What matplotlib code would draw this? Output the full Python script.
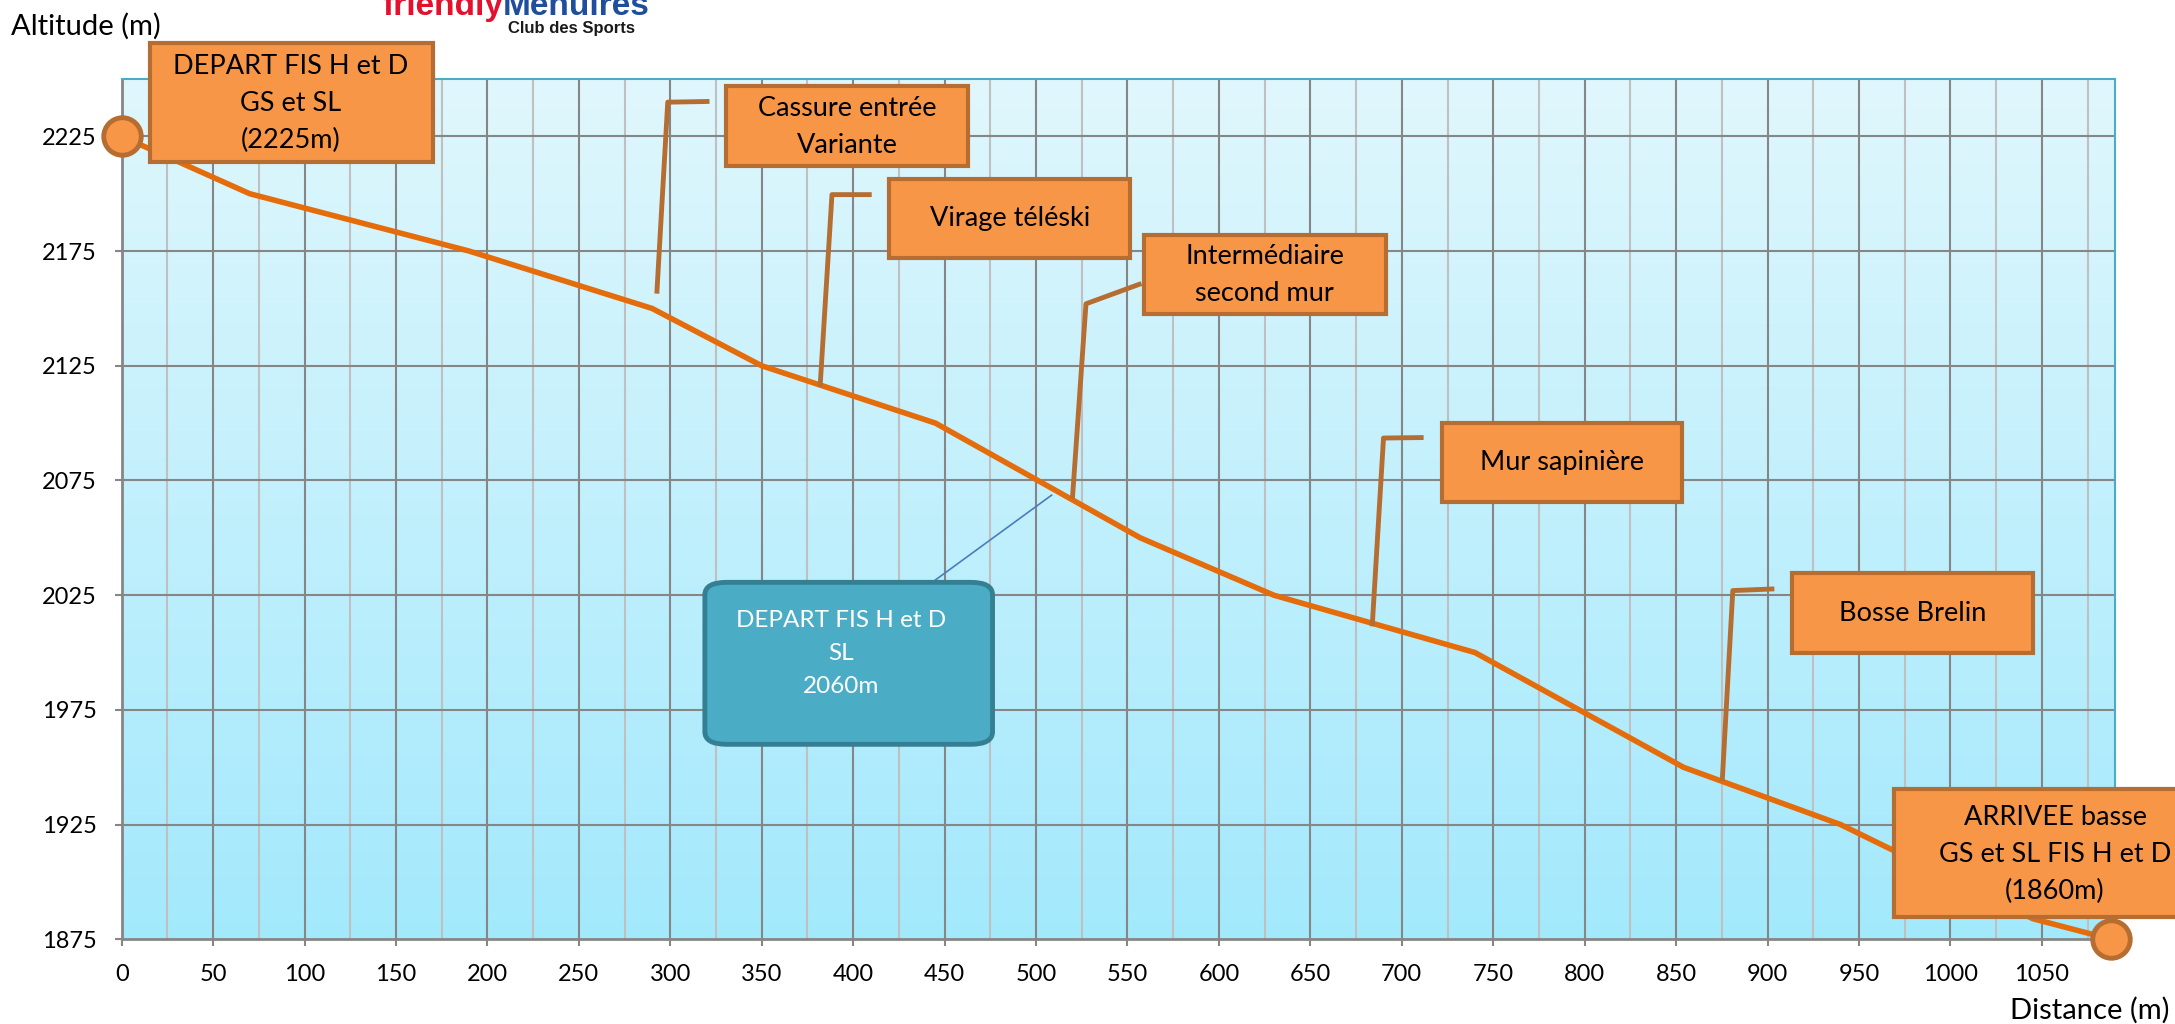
import numpy as np
import matplotlib.pyplot as plt
from matplotlib.patches import Rectangle, FancyBboxPatch
from matplotlib.colors import LinearSegmentedColormap

plt.rcParams['font.family'] = ['Lato', 'DejaVu Sans']

# profil de la piste (distance en m, altitude en m)
distance = [0, 70, 190, 290, 350, 445, 557, 630, 740, 854, 940, 1045, 1088]
altitude = [2225, 2200, 2175, 2150, 2125, 2100, 2050, 2025, 2000, 1950, 1925, 1884, 1875]

x_ticks = list(range(0, 1051, 50))
y_ticks = list(range(1875, 2226, 50))

# textes des bulles
textes_orange = [
    "DEPART FIS H et D\nGS et SL\n(2225m)",
    "Cassure entrée\nVariante",
    "Virage téléski",
    "Intermédiaire\nsecond mur",
    "Mur sapinière",
    "Bosse Brelin",
    "ARRIVEE basse\nGS et SL FIS H et D\n(1860m)",
]
texte_bleu = "DEPART FIS H et D\nSL\n2060m"

# mise en page des bulles : (x0, x1, y0, y1) et centre du texte
boites = [
    (15.5, 170.2, 2213.7, 2265.6, 92.4, 2239.5),
    (330.7, 462.9, 2211.9, 2246.9, 396.8, 2229.0),
    (419.7, 551.6, 2171.8, 2206.6, 485.7, 2189.4),
    (558.9, 691.1, 2147.4, 2181.9, 625.0, 2164.4),
    (721.9, 853.1, 2065.7, 2100.1, 787.5, 2083.0),
    (913.5, 1045.1, 1999.7, 2034.5, 979.3, 2017.0),
    (969.2, 1200.0, 1884.6, 1940.3, 1057.2, 1911.8),
]
boite_bleue = (318.9, 476.2, 1960.0, 2030.6, 393.5, 1999.5)

# traits de rappel
rappels = [
    [(320.1, 2240.2), (298.6, 2239.9), (292.7, 2157.5)],
    [(408.8, 2199.6), (388.4, 2199.6), (382.0, 2117.0)],
    [(556.4, 2160.5), (527.3, 2152.0), (520.0, 2068.3)],
    [(710.6, 2093.7), (690.0, 2093.5), (683.9, 2012.5)],
    [(902.4, 2027.7), (881.0, 2027.0), (875.3, 1945.0)],
]
rappel_bleu = [(508.5, 2068.6), (442.5, 2030.2)]

orange_ligne = '#e46c0a'
orange_fond = '#f79646'
orange_bord = '#b66d31'
gris = '#868686'

fig = plt.figure(figsize=(21.75, 10.24), dpi=100)
ax = fig.add_axes([0.05595, 0.08271, 0.91646, 0.84014])

# fond en dégradé
fond = LinearSegmentedColormap.from_list('fond', ['#a3e9fc', '#e0f7fd'])
grad = np.linspace(0, 1, 256).reshape(-1, 1)
ax.imshow(grad, extent=[0, 1, 0, 1], transform=ax.transAxes, cmap=fond,
          aspect='auto', origin='lower', zorder=0)

ax.set_xlim(0, 1090)
ax.set_ylim(1875, 2250)

# grille
for x in range(25, 1090, 50):
    ax.axvline(x, color='#c0c0c0', lw=1.5, zorder=1)
for x in x_ticks[1:]:
    ax.axvline(x, color=gris, lw=1.5, zorder=1)
for y in y_ticks[1:]:
    ax.axhline(y, color=gris, lw=1.5, zorder=1)

ax.set_xticks(x_ticks)
ax.set_yticks(y_ticks)
ax.tick_params(axis='both', length=5, width=1.5, color=gris, labelsize=17)
ax.tick_params(axis='x', pad=13)
ax.tick_params(axis='y', pad=13)

for cote in ['left', 'bottom']:
    ax.spines[cote].set_color(gris)
    ax.spines[cote].set_linewidth(2)
for cote in ['top', 'right']:
    ax.spines[cote].set_color('#4bacc6')
    ax.spines[cote].set_linewidth(1.5)

# profil
ax.plot(distance, altitude, color=orange_ligne, lw=4, zorder=3, solid_joinstyle='miter')

# traits de rappel
for pts in rappels:
    xs = [p[0] for p in pts]
    ys = [p[1] for p in pts]
    ax.plot(xs, ys, color=orange_bord, lw=3.5, zorder=4, clip_on=False)
ax.plot([p[0] for p in rappel_bleu], [p[1] for p in rappel_bleu], color='#4a7ebb', lw=1.2, zorder=2)

# bulles orange
for texte, (x0, x1, y0, y1, tx, ty) in zip(textes_orange, boites):
    ax.add_patch(Rectangle((x0, y0), x1 - x0, y1 - y0, facecolor=orange_fond,
                           edgecolor=orange_bord, lw=3, zorder=5, clip_on=False))
    ax.text(tx, ty, texte, ha='center', va='center', fontsize=19.5, linespacing=1.6,
            color='black', zorder=6, clip_on=False)

# bulle bleue
x0, x1, y0, y1, tx, ty = boite_bleue
ax.add_patch(FancyBboxPatch((x0, y0), x1 - x0, y1 - y0,
                            boxstyle='round,pad=0,rounding_size=12',
                            mutation_aspect=0.45,
                            facecolor='#4bacc6', edgecolor='#357f93', lw=3.5, zorder=5))
ax.text(tx, ty, texte_bleu, ha='center', va='center', fontsize=17.5, linespacing=1.7,
        color='white', zorder=6)

# départ et arrivée
ax.plot(distance[0], altitude[0], 'o', ms=27, mfc=orange_fond, mec=orange_bord, mew=3.5,
        zorder=7, clip_on=False)
ax.plot(distance[-1], altitude[-1], 'o', ms=27, mfc=orange_fond, mec=orange_bord, mew=3.5,
        zorder=7, clip_on=False)

# titres des axes
fig.text(11 / 2175, 0.9658, 'Altitude (m)', fontsize=21, ha='left', va='baseline')
fig.text(2170 / 2175, 0.0049, 'Distance (m)', fontsize=21, ha='right', va='baseline')

# logo (coupé en haut comme sur l'original)
fig.text(503 / 2175, 1 - 15 / 1024, 'friendly', fontsize=24, fontweight='bold',
         color='#e3112d', ha='right', va='baseline', family='Liberation Sans')
fig.text(503 / 2175, 1 - 15 / 1024, 'Menuires', fontsize=24, fontweight='bold',
         color='#1f4e9c', ha='left', va='baseline', family='Liberation Sans')
fig.text(571 / 2175, 1 - 33 / 1024, 'Club des Sports', fontsize=12, fontweight='bold',
         color='#1a1a1a', ha='center', va='baseline', family='Liberation Sans')

fig.savefig('out.png', dpi=100)
